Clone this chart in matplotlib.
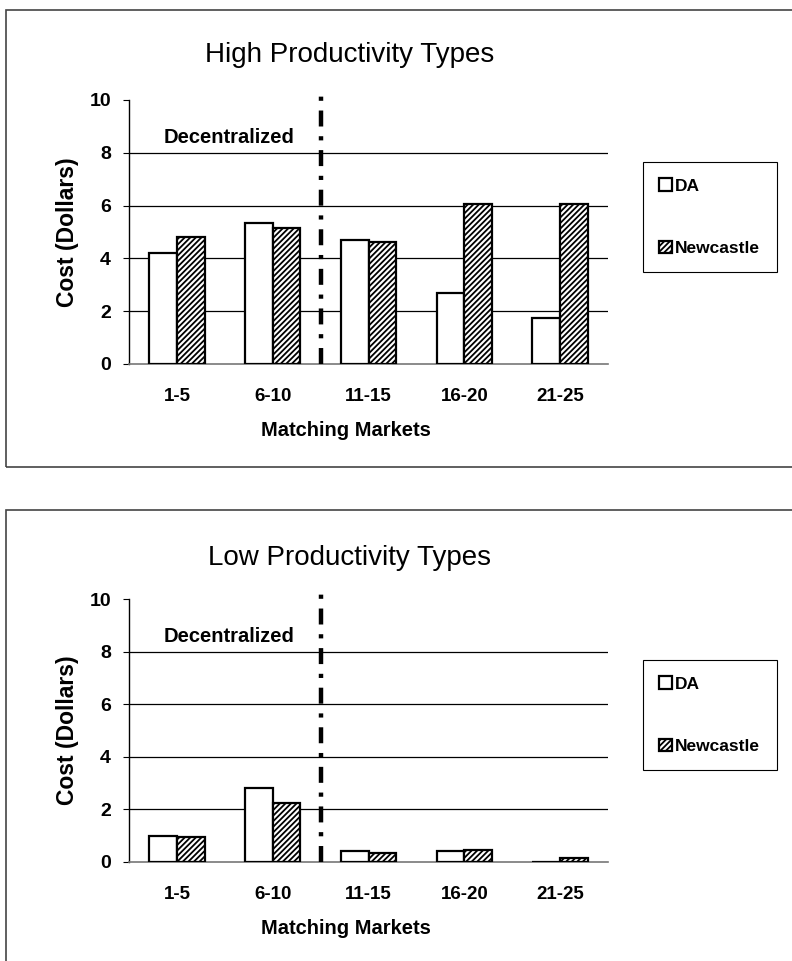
import numpy as np
import matplotlib.pyplot as plt
from matplotlib.patches import Rectangle

plt.rcParams['font.family'] = ['Liberation Sans', 'DejaVu Sans']
plt.rcParams['hatch.linewidth'] = 1.3
plt.rcParams['lines.scale_dashes'] = False

markets = ['1-5', '6-10', '11-15', '16-20', '21-25']
series = ['DA', 'Newcastle']
high_da = [4.2, 5.35, 4.7, 2.7, 1.76]
high_newcastle = [4.82, 5.15, 4.63, 6.05, 6.05]
low_da = [0.99, 2.82, 0.41, 0.41, 0.0]
low_newcastle = [0.94, 2.23, 0.36, 0.44, 0.17]
titles = ['High Productivity Types', 'Low Productivity Types']

W, H = 792, 961
fig = plt.figure(figsize=(W / 100, H / 100), dpi=100)


def px_box(x0, y0, x1, y1):
    # pixel box (top-left origin) -> figure fraction rect
    return [x0 / W, 1 - y1 / H, (x1 - x0) / W, (y1 - y0) / H]


def panel(rect, da, nc, title, frame, title_y, legend_y):
    fig.patches.append(Rectangle((frame[0], frame[1]), frame[2], frame[3],
                                 transform=fig.transFigure, fill=False,
                                 edgecolor='#444444', lw=1.2))
    ax = fig.add_axes(rect)
    x = np.arange(len(markets))
    w = 0.29
    b1 = ax.bar(x - w / 2, da, w, color='white', edgecolor='black', lw=1.6, zorder=3)
    b2 = ax.bar(x + w / 2, nc, w, color='white', edgecolor='black', lw=1.6,
                hatch='//////', zorder=3)
    ax.set_xlim(-0.5, 4.5)
    ax.set_ylim(0, 10)
    ax.set_yticks([0, 2, 4, 6, 8, 10])
    for yv in [2, 4, 6, 8]:
        ax.axhline(yv, color='black', lw=0.9, zorder=1)
    for s in ['top', 'right']:
        ax.spines[s].set_visible(False)
    ax.spines['left'].set_linewidth(1.0)
    ax.spines['bottom'].set_color('#777777')
    ax.spines['bottom'].set_linewidth(1.2)
    ax.set_xticks(x)
    ax.set_xticklabels(markets, fontsize=13.5, fontweight='bold')
    ax.tick_params(axis='x', length=0, pad=17)
    ax.tick_params(axis='y', length=4, pad=9, labelsize=14)
    for t in ax.get_yticklabels():
        t.set_fontweight('bold')
    ax.set_xlabel('Matching Markets', fontsize=14.5, fontweight='bold')
    ax.xaxis.set_label_coords(0.453, -0.215)
    ax.set_ylabel('Cost (Dollars)', fontsize=16.5, fontweight='bold')
    ax.yaxis.set_label_coords(-0.105, 0.5)
    fig.text(350 / W, 1 - title_y / H, title, fontsize=20, ha='center', va='baseline')
    ax.plot([1.5, 1.5], [0, 10.45], color='black', lw=3.2, clip_on=False,
            dashes=(11.5, 7, 3, 7), dash_capstyle='butt', zorder=4)
    ax.text(1.23, 8.38, 'Decentralized', ha='right', va='baseline',
            fontsize=14.5, fontweight='bold')
    leg = ax.legend([b1, b2], series, loc='upper left',
                    bbox_to_anchor=(643 / W, legend_y), bbox_transform=fig.transFigure,
                    frameon=True, fancybox=False, edgecolor='black', framealpha=1,
                    prop={'weight': 'bold', 'size': 12.5}, handlelength=0.7,
                    handleheight=0.7, handletextpad=0.2, labelspacing=2.7,
                    borderpad=0.95, borderaxespad=0)
    leg.get_frame().set_linewidth(0.8)
    return ax


panel(px_box(129, 100, 608, 364), high_da, high_newcastle, titles[0],
      (6 / W, 1 - 467 / H, 1.0, (467 - 10) / H), 62, 1 - 162 / H)
panel(px_box(129, 599, 608, 862), low_da, low_newcastle, titles[1],
      (6 / W, -0.05, 1.0, 1 - 510 / H + 0.05), 565, 1 - 660 / H)

fig.savefig('out.png', dpi=100)
